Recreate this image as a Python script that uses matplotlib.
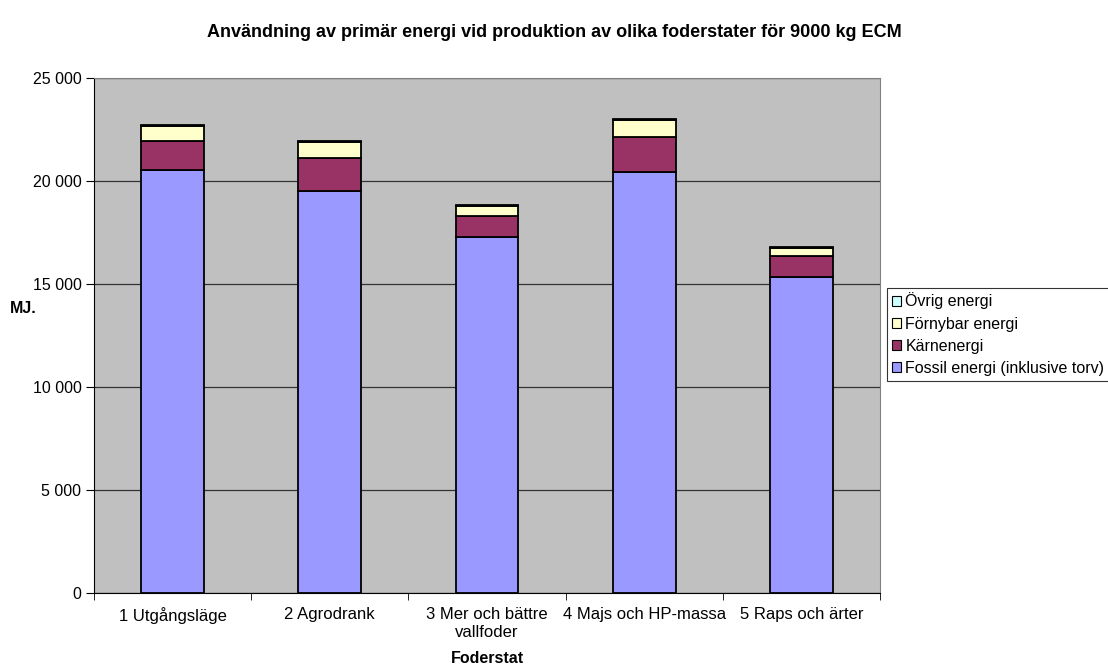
import matplotlib.pyplot as plt
import numpy as np
from matplotlib.ticker import FuncFormatter
from matplotlib.patches import Patch

plt.rcParams['font.family'] = ['Liberation Sans', 'DejaVu Sans']

# data (MJ)
foderstater = ["1 Utgångsläge", "2 Agrodrank", "3 Mer och bättre\nvallfoder",
               "4 Majs och HP-massa", "5 Raps och ärter"]
fossil = [20530, 19510, 17280, 20440, 15340]
karn = [1410, 1610, 1020, 1710, 1030]
fornybar = [740, 780, 495, 820, 370]
ovrig = [40, 40, 40, 40, 40]

colors = ["#9999FF", "#993366", "#FFFFCC", "#CCFFFF"]
names = ["Fossil energi (inklusive torv)", "Kärnenergi", "Förnybar energi", "Övrig energi"]

fig = plt.figure(figsize=(11.08, 6.66), dpi=100)
ax = fig.add_axes([0.0848, 0.1096, 0.7094, 0.7733])
ax.set_facecolor("#C0C0C0")

x = np.arange(len(foderstater))
bottom = np.zeros(len(x))
for vals, col in zip([fossil, karn, fornybar, ovrig], colors):
    ax.bar(x, vals, width=0.4, bottom=bottom, color=col, edgecolor="black",
           linewidth=1.3, zorder=3)
    bottom += np.array(vals)

ax.set_xlim(-0.5, 4.5)
ax.set_ylim(0, 25000)
ax.set_yticks(np.arange(0, 25001, 5000))
ax.yaxis.set_major_formatter(FuncFormatter(lambda v, p: f"{int(v):,}".replace(",", " ")))
ax.grid(axis="y", color="#333333", linewidth=0.9, zorder=1)

ax.set_xticks(x)
ax.set_xticklabels(foderstater, fontsize=12, linespacing=1.3)
ax.tick_params(axis="x", length=0, pad=10)
ax.set_xticks(np.arange(-0.5, 4.6, 1), minor=True)
ax.tick_params(axis="x", which="minor", length=5, color="black")
ax.tick_params(axis="y", length=6, labelsize=11.5, color="black", pad=3)

for s in ax.spines.values():
    s.set_color("#808080")
ax.spines["left"].set_color("black")
ax.spines["bottom"].set_color("black")

fig.text(0.5, 0.951, "Användning av primär energi vid produktion av olika foderstater för 9000 kg ECM",
         ha="center", va="center", fontsize=13, fontweight="bold")
fig.text(0.021, 0.537, "MJ.", ha="center", va="center", fontsize=11.5, fontweight="bold")
fig.text(0.4395, 0.011, "Foderstat", ha="center", va="center", fontsize=11.5, fontweight="bold")

handles = [Patch(facecolor=c, edgecolor="black", linewidth=0.8) for c in colors[::-1]]
leg = fig.legend(handles, names[::-1], loc="upper left", bbox_to_anchor=(0.8005, 0.568),
                 fontsize=11.5, frameon=True, fancybox=False, edgecolor="black",
                 handlelength=0.6, handleheight=0.6, handletextpad=0.25,
                 labelspacing=0.45, borderpad=0.3, borderaxespad=0)
leg.get_frame().set_linewidth(0.8)

fig.savefig("out.png", dpi=100)
